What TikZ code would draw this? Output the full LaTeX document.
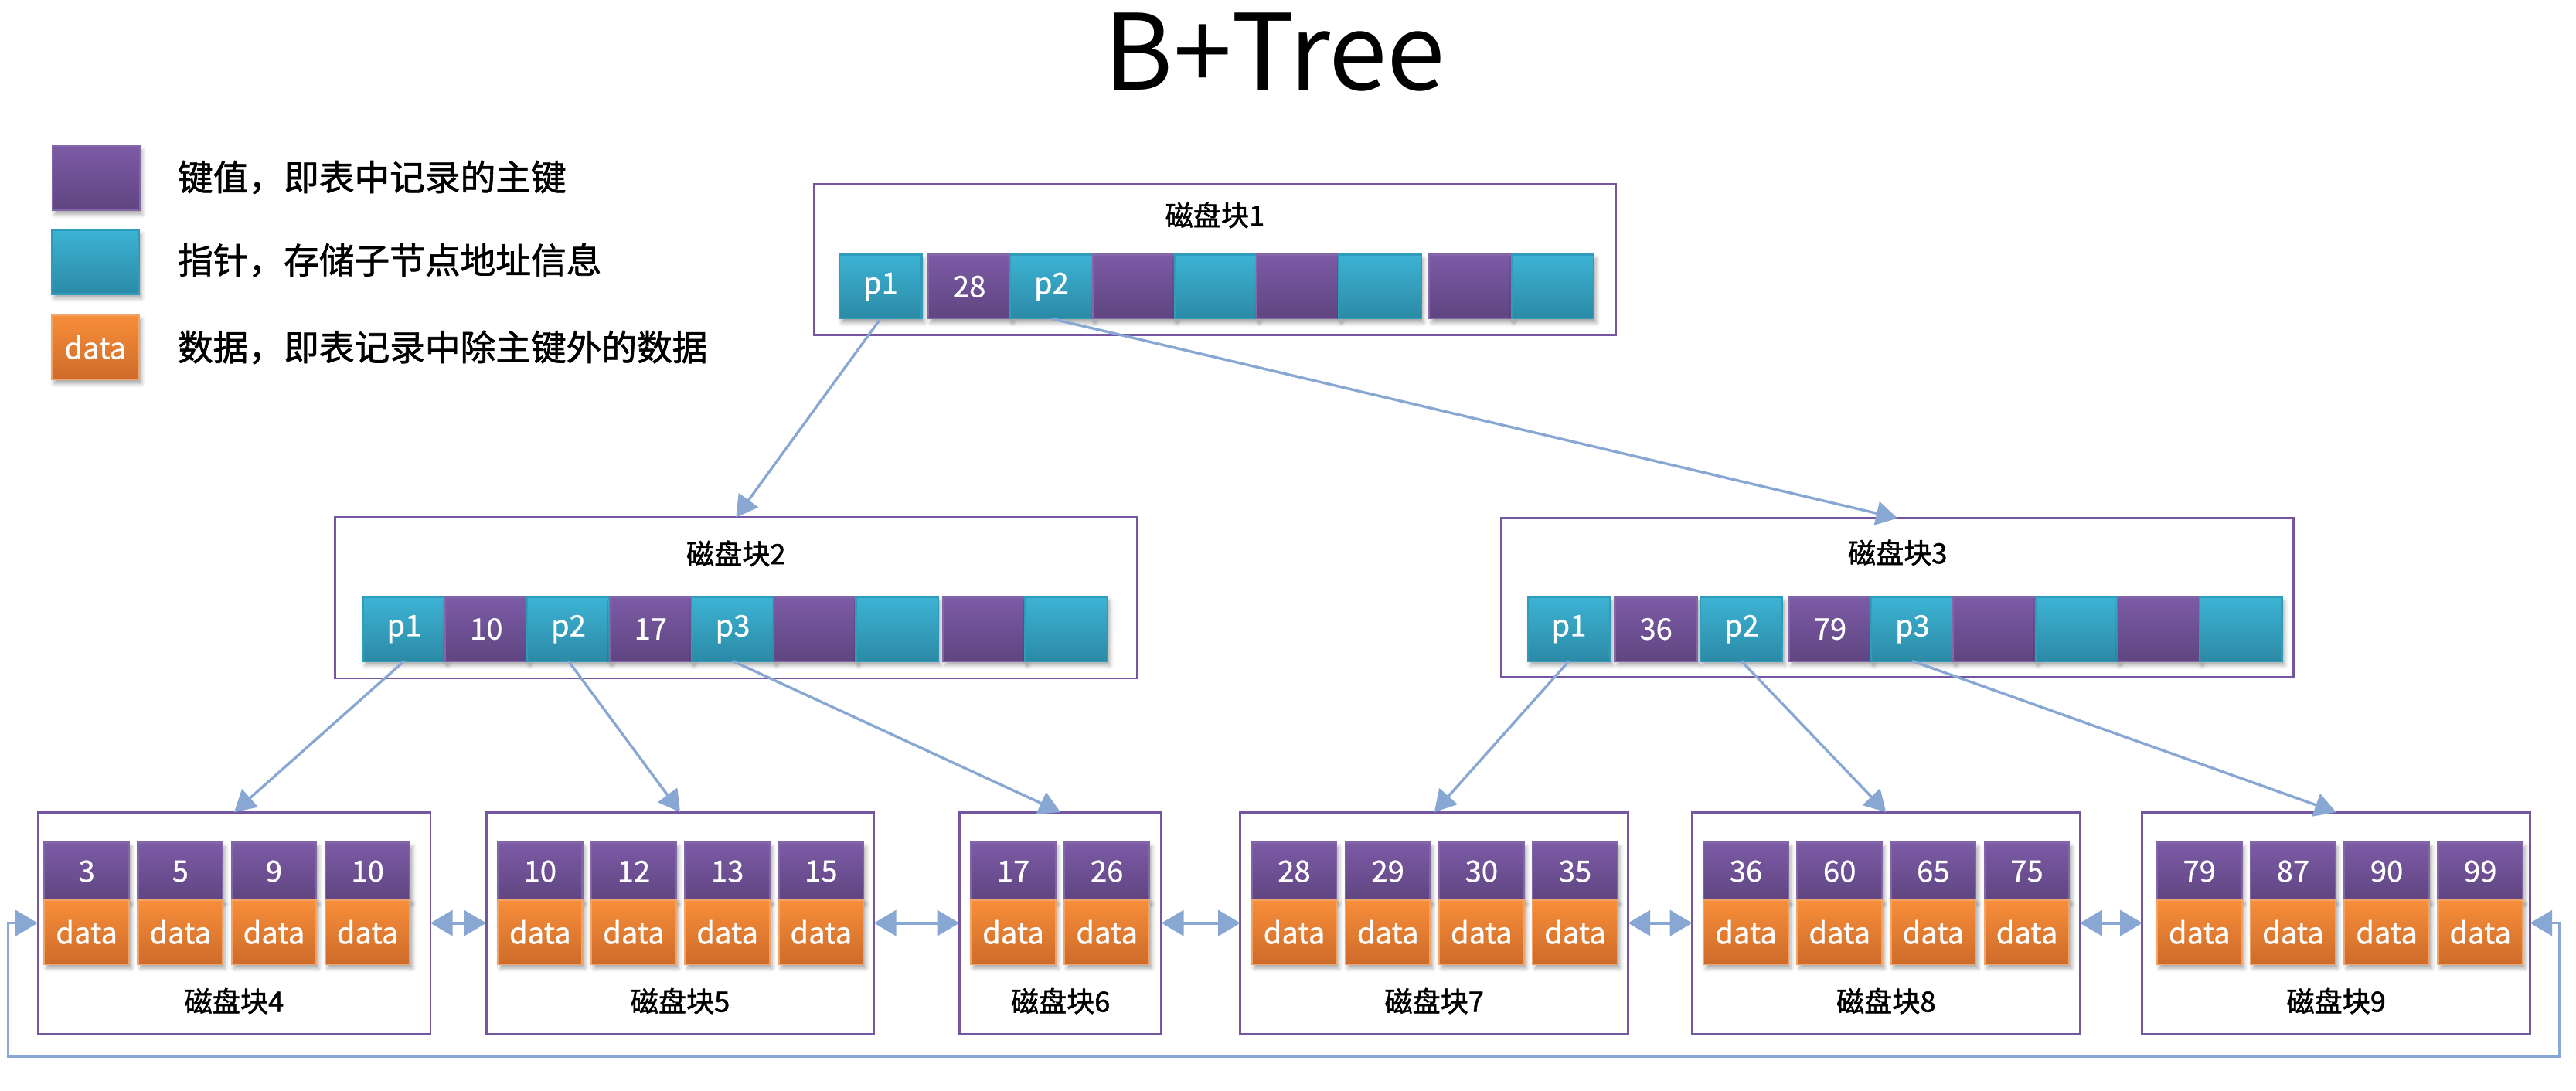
\documentclass[tikz,border=0pt]{standalone}
\usepackage{fontspec}
\setmainfont{Noto Sans CJK SC}
\newfontfamily\cjkbold{Noto Sans CJK SC}[FakeBold=1.4]
\newfontfamily\cellface{Noto Sans CJK SC}[FakeBold=0.6]
\usetikzlibrary{positioning,arrows.meta,shadows.blur}

\definecolor{keytop}{RGB}{124,91,166}
\definecolor{keybot}{RGB}{95,69,129}
\definecolor{keyline}{RGB}{130,102,168}
\definecolor{ptrtop}{RGB}{61,179,212}
\definecolor{ptrbot}{RGB}{43,138,166}
\definecolor{ptrline}{RGB}{48,156,188}
\definecolor{datatop}{RGB}{247,142,58}
\definecolor{databot}{RGB}{206,107,42}
\definecolor{dataline}{RGB}{242,163,104}
\definecolor{frameline}{RGB}{116,87,160}
\definecolor{linkblue}{RGB}{136,168,211}

\newcommand\cellfont{\cellface\fontsize{18}{20}\selectfont}
\newcommand\legendfont{\cjkbold\fontsize{21.5}{24}\selectfont}
\newcommand\blockfont{\cjkbold\fontsize{17}{19}\selectfont}
\newcommand\titlefont{\fontsize{64}{70}\selectfont}

\begin{document}
\begin{tikzpicture}[x=1pt,y=-1pt,
		cellshadow/.style={blur shadow={shadow xshift=1.5pt,shadow yshift=-2.5pt,shadow blur radius=2.5pt,shadow opacity=35}},
		keybox/.style={draw=keyline,line width=1pt,top color=keytop,bottom color=keybot,text=white,font=\cellfont,
			minimum width=50pt,minimum height=39pt,inner sep=0pt,outer sep=0pt,cellshadow},
		ptrbox/.style={draw=ptrline,line width=1pt,top color=ptrtop,bottom color=ptrbot,text=white,font=\cellfont,
			minimum width=50pt,minimum height=39pt,inner sep=0pt,outer sep=0pt,cellshadow},
		leafkey/.style={keybox,minimum width=51.5pt,minimum height=35pt},
		leafdata/.style={draw=dataline,line width=1pt,top color=datatop,bottom color=databot,text=white,font=\cellfont,
			minimum width=51.5pt,minimum height=39pt,inner sep=0pt,outer sep=0pt,cellshadow},
		diskblock/.style={draw=frameline,line width=1.3pt,inner sep=0pt,outer sep=0pt},
		blocklabel/.style={font=\blockfont,inner sep=0pt},
		legendtext/.style={font=\legendfont,anchor=west,inner sep=0pt},
		treelink/.style={draw=linkblue,line width=1.6pt,-{Triangle[length=13pt,width=14.5pt]}},
		leaflink/.style={draw=linkblue,line width=2pt,{Triangle[length=13.5pt,width=15.5pt]}-{Triangle[length=13.5pt,width=15.5pt]}}]

	\useasboundingbox (0,0) rectangle (1568,664);

	% title
	\node[font=\titlefont,anchor=base,inner sep=0pt]	(title)	at (776,55)	{B+Tree};

	% legend
	\node[keybox,minimum width=53pt]					(lgkey)		at (58.5,108.5)	{};
	\node[ptrbox,minimum width=53pt]					(lgptr)		at (58,159.5)	{};
	\node[leafdata,minimum width=53pt]					(lgdata)	at (58,211.5)	{data};
	\node[legendtext]	(lgkeytxt)	at (108,108)	{键值，即表中记录的主键};
	\node[legendtext]	(lgptrtxt)	at (108,158.5)	{指针，存储子节点地址信息};
	\node[legendtext]	(lgdatatxt)	at (108,211.5)	{数据，即表记录中除主键外的数据};

	% disk blocks
	\node[diskblock,minimum width=488pt,minimum height=92pt]	(b1)	at (739.5,158)	{};
	\node[diskblock,minimum width=488pt,minimum height=98pt]	(b2)	at (448,364)	{};
	\node[diskblock,minimum width=482pt,minimum height=97pt]	(b3)	at (1155,364)	{};
	\node[diskblock,minimum width=239pt,minimum height=135pt]	(b4)	at (142.5,562)	{};
	\node[diskblock,minimum width=236pt,minimum height=135pt]	(b5)	at (414,562)	{};
	\node[diskblock,minimum width=123pt,minimum height=135pt]	(b6)	at (645.5,562)	{};
	\node[diskblock,minimum width=236pt,minimum height=135pt]	(b7)	at (873,562)	{};
	\node[diskblock,minimum width=236pt,minimum height=135pt]	(b8)	at (1148,562)	{};
	\node[diskblock,minimum width=236pt,minimum height=135pt]	(b9)	at (1422,562)	{};

	\node[blocklabel]	(b1lab)	at ([yshift=-19pt]b1.north)	{磁盘块1};
	\node[blocklabel]	(b2lab)	at ([yshift=-22pt]b2.north)	{磁盘块2};
	\node[blocklabel]	(b3lab)	at ([yshift=-21pt]b3.north)	{磁盘块3};
	\node[blocklabel]	(b4lab)	at ([yshift=20pt]b4.south)	{磁盘块4};
	\node[blocklabel]	(b5lab)	at ([yshift=20pt]b5.south)	{磁盘块5};
	\node[blocklabel]	(b6lab)	at ([yshift=20pt]b6.south)	{磁盘块6};
	\node[blocklabel]	(b7lab)	at ([yshift=20pt]b7.south)	{磁盘块7};
	\node[blocklabel]	(b8lab)	at ([yshift=20pt]b8.south)	{磁盘块8};
	\node[blocklabel]	(b9lab)	at ([yshift=20pt]b9.south)	{磁盘块9};

	% block 1 cells
	\node[ptrbox]					(b1p1)	at (536,174.5)	{p1};
	\node[keybox,right=4pt of b1p1]	(b1k1)	{28};
	\node[ptrbox,right=0pt of b1k1]	(b1p2)	{p2};
	\node[keybox,right=0pt of b1p2]	(b1k2)	{};
	\node[ptrbox,right=0pt of b1k2]	(b1p3)	{};
	\node[keybox,right=0pt of b1p3]	(b1k3)	{};
	\node[ptrbox,right=0pt of b1k3]	(b1p4)	{};
	\node[keybox,right=5pt of b1p4]	(b1k4)	{};
	\node[ptrbox,right=0pt of b1k4]	(b1p5)	{};

	% block 2 cells
	\node[ptrbox]					(b2p1)	at (246,383)	{p1};
	\node[keybox,right=0pt of b2p1]	(b2k1)	{10};
	\node[ptrbox,right=0pt of b2k1]	(b2p2)	{p2};
	\node[keybox,right=0pt of b2p2]	(b2k2)	{17};
	\node[ptrbox,right=0pt of b2k2]	(b2p3)	{p3};
	\node[keybox,right=0pt of b2p3]	(b2k3)	{};
	\node[ptrbox,right=0pt of b2k3]	(b2p4)	{};
	\node[keybox,right=3pt of b2p4]	(b2k4)	{};
	\node[ptrbox,right=0pt of b2k4]	(b2p5)	{};

	% block 3 cells
	\node[ptrbox]					(b3p1)	at (955,383)	{p1};
	\node[keybox,right=3pt of b3p1]	(b3k1)	{36};
	\node[ptrbox,right=2pt of b3k1]	(b3p2)	{p2};
	\node[keybox,right=4pt of b3p2]	(b3k2)	{79};
	\node[ptrbox,right=0pt of b3k2]	(b3p3)	{p3};
	\node[keybox,right=0pt of b3p3]	(b3k3)	{};
	\node[ptrbox,right=0pt of b3k3]	(b3p4)	{};
	\node[keybox,right=0pt of b3p4]	(b3k4)	{};
	\node[ptrbox,right=0pt of b3k4]	(b3p5)	{};

	% leaf cells
	\node[leafkey]						(b4k1)	at (52.75,530.5)	{3};
	\node[leafkey,right=5.5pt of b4k1]	(b4k2)	{5};
	\node[leafkey,right=5.5pt of b4k2]	(b4k3)	{9};
	\node[leafkey,right=5.5pt of b4k3]	(b4k4)	{10};
	\node[leafdata,below=0pt of b4k1]	(b4d1)	{data};
	\node[leafdata,below=0pt of b4k2]	(b4d2)	{data};
	\node[leafdata,below=0pt of b4k3]	(b4d3)	{data};
	\node[leafdata,below=0pt of b4k4]	(b4d4)	{data};

	\node[leafkey]						(b5k1)	at (328.75,530.5)	{10};
	\node[leafkey,right=5.5pt of b5k1]	(b5k2)	{12};
	\node[leafkey,right=5.5pt of b5k2]	(b5k3)	{13};
	\node[leafkey,right=5.5pt of b5k3]	(b5k4)	{15};
	\node[leafdata,below=0pt of b5k1]	(b5d1)	{data};
	\node[leafdata,below=0pt of b5k2]	(b5d2)	{data};
	\node[leafdata,below=0pt of b5k3]	(b5d3)	{data};
	\node[leafdata,below=0pt of b5k4]	(b5d4)	{data};

	\node[leafkey]						(b6k1)	at (616.75,530.5)	{17};
	\node[leafkey,right=5.5pt of b6k1]	(b6k2)	{26};
	\node[leafdata,below=0pt of b6k1]	(b6d1)	{data};
	\node[leafdata,below=0pt of b6k2]	(b6d2)	{data};

	\node[leafkey]						(b7k1)	at (787.75,530.5)	{28};
	\node[leafkey,right=5.5pt of b7k1]	(b7k2)	{29};
	\node[leafkey,right=5.5pt of b7k2]	(b7k3)	{30};
	\node[leafkey,right=5.5pt of b7k3]	(b7k4)	{35};
	\node[leafdata,below=0pt of b7k1]	(b7d1)	{data};
	\node[leafdata,below=0pt of b7k2]	(b7d2)	{data};
	\node[leafdata,below=0pt of b7k3]	(b7d3)	{data};
	\node[leafdata,below=0pt of b7k4]	(b7d4)	{data};

	\node[leafkey]						(b8k1)	at (1062.75,530.5)	{36};
	\node[leafkey,right=5.5pt of b8k1]	(b8k2)	{60};
	\node[leafkey,right=5.5pt of b8k2]	(b8k3)	{65};
	\node[leafkey,right=5.5pt of b8k3]	(b8k4)	{75};
	\node[leafdata,below=0pt of b8k1]	(b8d1)	{data};
	\node[leafdata,below=0pt of b8k2]	(b8d2)	{data};
	\node[leafdata,below=0pt of b8k3]	(b8d3)	{data};
	\node[leafdata,below=0pt of b8k4]	(b8d4)	{data};

	\node[leafkey]						(b9k1)	at (1338.75,530.5)	{79};
	\node[leafkey,right=5.5pt of b9k1]	(b9k2)	{87};
	\node[leafkey,right=5.5pt of b9k2]	(b9k3)	{90};
	\node[leafkey,right=5.5pt of b9k3]	(b9k4)	{99};
	\node[leafdata,below=0pt of b9k1]	(b9d1)	{data};
	\node[leafdata,below=0pt of b9k2]	(b9d2)	{data};
	\node[leafdata,below=0pt of b9k3]	(b9d3)	{data};
	\node[leafdata,below=0pt of b9k4]	(b9d4)	{data};

	% pointers
	\draw[treelink] (b1p1.south) -- (b2.north);
	\draw[treelink] (b1p2.south) -- (b3.north);
	\draw[treelink] (b2p1.south) -- (b4.north);
	\draw[treelink] (b2p2.south) -- (b5.north);
	\draw[treelink] (b2p3.south) -- (b6.north);
	\draw[treelink] (b3p1.south) -- (b7.north);
	\draw[treelink] (b3p2.south) -- (b8.north);
	\draw[treelink] (b3p3.south) -- (b9.north);

	% leaf chain
	\draw[leaflink] (b4) -- (b5);
	\draw[leaflink] (b5) -- (b6);
	\draw[leaflink] (b6) -- (b7);
	\draw[leaflink] (b7) -- (b8);
	\draw[leaflink] (b8) -- (b9);

	\coordinate (loopl) at (5,643);
	\coordinate (loopr) at (1558,643);
	\draw[leaflink,line width=1.7pt] (b4.west) -| (loopl) -- (loopr) |- (b9.east);
\end{tikzpicture}
\end{document}
